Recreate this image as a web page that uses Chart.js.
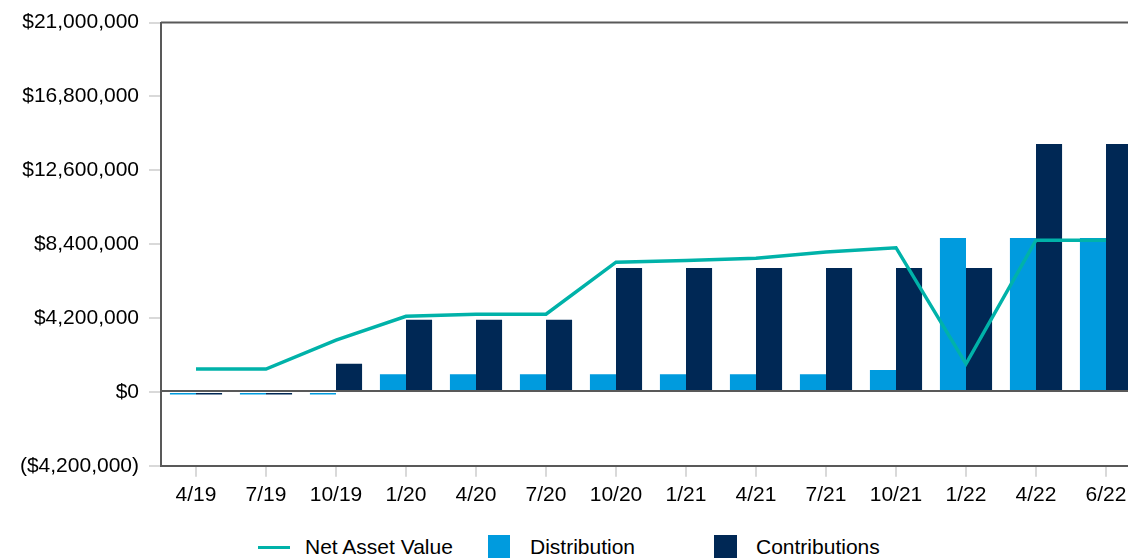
<!DOCTYPE html>
<html>
<head>
<meta charset="utf-8">
<script src="https://cdn.jsdelivr.net/npm/chart.js@4/dist/chart.umd.min.js"></script>
<style>
  html, body { margin: 0; padding: 0; background: #fff; overflow: hidden; }
  #wrap { position: relative; width: 1145px; height: 514px; }
  .legend { position: absolute; top: 534px; left: 0; width: 1128px; height: 26px;
            font-family: "Liberation Sans", Arial, sans-serif; font-size: 21px; color: #000; }
  .legend span { position: absolute; top: 1px; }
  .sw { position: absolute; }
</style>
</head>
<body>
<div id="wrap"><canvas id="c"></canvas></div>
<div class="legend">
  <div class="sw" style="left:258px;top:12px;width:32px;height:3px;background:#00B2A9"></div>
  <span style="left:305px">Net Asset Value</span>
  <div class="sw" style="left:488px;top:1px;width:22px;height:23px;background:#009BDE"></div>
  <span style="left:530px">Distribution</span>
  <div class="sw" style="left:714px;top:1px;width:23px;height:23px;background:#002855"></div>
  <span style="left:756px">Contributions</span>
</div>
<script>
  // periodos do eixo x
  var periodos = ["4/19", "7/19", "10/19", "1/20", "4/20", "7/20", "10/20", "1/21", "4/21", "7/21", "10/21", "1/22", "4/22", "6/22"];
  // valores (USD)
  var nav = [1300000, 1300000, 2950000, 4300000, 4420000, 4420000, 7380000, 7480000, 7600000, 7950000, 8200000, 1600000, 8630000, 8630000];
  var distribuicao = [-150000, -150000, -150000, 1000000, 1000000, 1000000, 1000000, 1000000, 1000000, 1000000, 1250000, 8750000, 8750000, 8750000];
  var contribuicoes = [-150000, -150000, 1600000, 4100000, 4100000, 4100000, 7050000, 7050000, 7050000, 7050000, 7050000, 7050000, 14100000, 14100000];
  var yMin = -4200000, yMax = 21000000, yPasso = 4200000;

  var FONTE = "'Liberation Sans', Arial, sans-serif";

  function moeda(v) {
    var s = "$" + Math.abs(v).toLocaleString("en-US");
    return v < 0 ? "(" + s + ")" : s;
  }

  // moldura do grafico + linha do zero
  var moldura = {
    id: "moldura",
    afterDatasetsDraw: function (chart) {
      var a = chart.chartArea, ctx = chart.ctx;
      var y0 = chart.scales.y.getPixelForValue(0);
      ctx.save();
      ctx.strokeStyle = "#595959";
      ctx.lineWidth = 2;
      ctx.beginPath();
      ctx.moveTo(a.left, a.top); ctx.lineTo(a.right, a.top);
      ctx.moveTo(a.left, y0 - 1); ctx.lineTo(a.right, y0 - 1);
      ctx.stroke();
      ctx.restore();
    }
  };

  new Chart(document.getElementById("c"), {
    type: "bar",
    data: {
      labels: periodos,
      datasets: [
        { type: "line", label: "Net Asset Value", data: nav, borderColor: "#00B2A9", borderWidth: 3.5,
          pointRadius: 0, tension: 0, order: 0, fill: false },
        { label: "Distribution", data: distribuicao, backgroundColor: "#009BDE", borderWidth: 0, order: 1 },
        { label: "Contributions", data: contribuicoes, backgroundColor: "#002855", borderWidth: 0, order: 1 }
      ]
    },
    options: {
      responsive: true, maintainAspectRatio: false, animation: false,
      layout: { padding: { top: 18, right: 4, left: 0, bottom: 0 } },
      datasets: { bar: { barPercentage: 1, categoryPercentage: 0.745 } },
      plugins: { legend: { display: false }, tooltip: { enabled: false } },
      scales: {
        x: {
          grid: { drawOnChartArea: false, offset: false, color: "#d9d9d9", tickLength: 11, lineWidth: 2 },
          border: { color: "#595959", width: 2 },
          ticks: { color: "#000", font: { family: FONTE, size: 21 }, padding: 6, maxRotation: 0, autoSkip: false }
        },
        y: {
          min: yMin, max: yMax,
          afterFit: function (s) { s.width = 161; },
          grid: { drawOnChartArea: false, color: "#d9d9d9", tickLength: 12, lineWidth: 2 },
          border: { color: "#595959", width: 2 },
          ticks: { stepSize: yPasso, color: "#000", font: { family: FONTE, size: 21 }, padding: 10,
                   callback: function (v) { return moeda(v); } }
        }
      }
    },
    plugins: [moldura]
  });
</script>
</body>
</html>
